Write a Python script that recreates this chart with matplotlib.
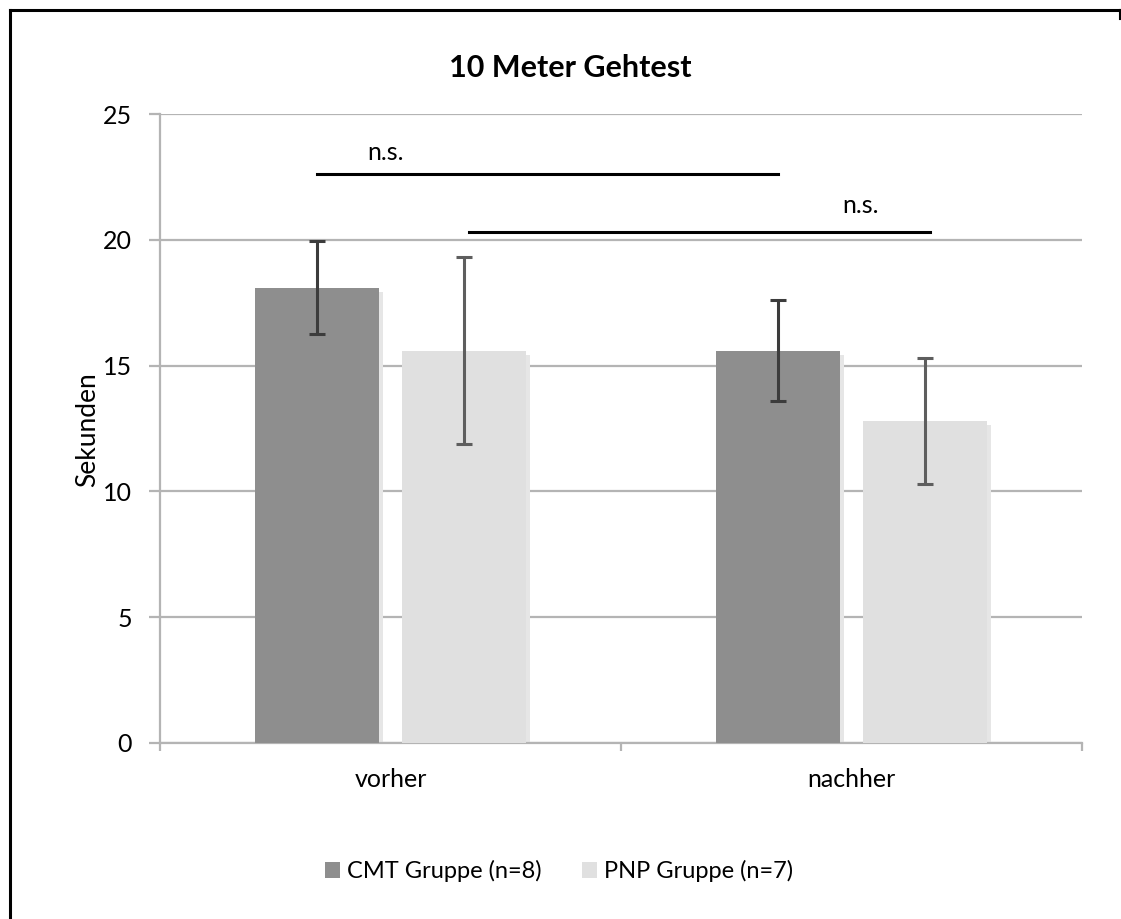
import matplotlib
matplotlib.use("Agg")
import matplotlib.pyplot as plt
import numpy as np
from matplotlib.lines import Line2D
from matplotlib.patches import Patch

plt.rcParams['font.family'] = ['Lato', 'DejaVu Sans']

categories = ["vorher", "nachher"]
series_names = ["CMT Gruppe (n=8)", "PNP Gruppe (n=7)"]
cmt_means = [18.1, 15.6]
cmt_err = [1.85, 2.0]
pnp_means = [15.6, 12.8]
pnp_err = [3.7, 2.5]
y_ticks = [0, 5, 10, 15, 20, 25]

cmt_color = "#8e8e8e"
pnp_color = "#e0e0e0"
grid_color = "#b4b4b4"

W, H = 1121, 919
fig = plt.figure(figsize=(W / 100, H / 100), dpi=100)
ax = fig.add_axes([160 / W, (H - 743) / H, 922 / W, 629 / H])

x = np.arange(len(categories))
width = 0.27
off = 0.16

# soft drop shadow behind each bar
shadow_dx = 4 / 461
shadow_dy = 4 / 25.16
for xs, vals in ((x - off, cmt_means), (x + off, pnp_means)):
    ax.bar(xs + shadow_dx, np.array(vals) - shadow_dy, width, color="#e6e6e6", zorder=2)

ax.bar(x - off, cmt_means, width, color=cmt_color, zorder=3)
ax.bar(x + off, pnp_means, width, color=pnp_color, zorder=3)

ax.errorbar(x - off, cmt_means, yerr=cmt_err, fmt="none", ecolor="#3c3c3c",
            elinewidth=2.2, capsize=6, capthick=2.2, zorder=4)
ax.errorbar(x + off, pnp_means, yerr=pnp_err, fmt="none", ecolor="#5e5e5e",
            elinewidth=2.2, capsize=6, capthick=2.2, zorder=4)

# significance brackets
ax.plot([x[0] - off, x[1] - off], [22.6, 22.6], color="black", lw=2.2, zorder=5)
ax.text(-0.01, 23.0, "n.s.", ha="center", va="bottom", fontsize=18)
ax.plot([x[0] + off + 0.01, x[1] + off + 0.01], [20.3, 20.3], color="black", lw=2.2, zorder=5)
ax.text(1.02, 20.9, "n.s.", ha="center", va="bottom", fontsize=18)

ax.set_xlim(-0.5, 1.5)
ax.set_ylim(0, 25)
ax.set_yticks(y_ticks)
ax.set_yticklabels([str(t) for t in y_ticks], fontsize=18)
ax.yaxis.grid(True, color=grid_color, lw=1.6, zorder=0)
ax.set_axisbelow(True)

ax.set_xticks([-0.5, 0.5, 1.5])
ax.set_xticklabels([])
ax.set_xticks(x, minor=True)
ax.set_xticklabels(categories, minor=True, fontsize=18)
ax.tick_params(axis="x", which="minor", length=0, pad=18)
ax.tick_params(axis="x", which="major", length=6, color=grid_color, width=1.6)
ax.tick_params(axis="y", length=8, color=grid_color, width=1.6, pad=12)

for s in ("top", "right"):
    ax.spines[s].set_visible(False)
for s in ("left", "bottom"):
    ax.spines[s].set_color(grid_color)
    ax.spines[s].set_linewidth(1.6)

fig.text(570 / W, 1 - 68 / H, "10 Meter Gehtest", fontsize=22, fontweight="bold",
         ha="center", va="center")
fig.text(88 / W, 1 - 430 / H, "Sekunden", fontsize=19, rotation=90,
         ha="center", va="center")

handles = [Patch(facecolor=cmt_color, edgecolor="none"),
           Patch(facecolor=pnp_color, edgecolor="none")]
fig.legend(handles, series_names, loc="center", bbox_to_anchor=(559 / W, (H - 871) / H),
           ncol=2, frameon=False, fontsize=17, handlelength=0.65, handleheight=0.65,
           handletextpad=0.3, columnspacing=1.7)

# outer frame
fig.add_artist(Line2D([10 / W, 10 / W], [0, 1 - 10 / H], transform=fig.transFigure,
                      color="black", lw=2.2))
fig.add_artist(Line2D([10 / W, 1120 / W], [1 - 10 / H, 1 - 10 / H], transform=fig.transFigure,
                      color="black", lw=2.2))
fig.add_artist(Line2D([1120 / W, 1120 / W], [1 - 10 / H, 1 - 19 / H], transform=fig.transFigure,
                      color="black", lw=1.5))

fig.savefig("out.png", dpi=100, facecolor="white")
